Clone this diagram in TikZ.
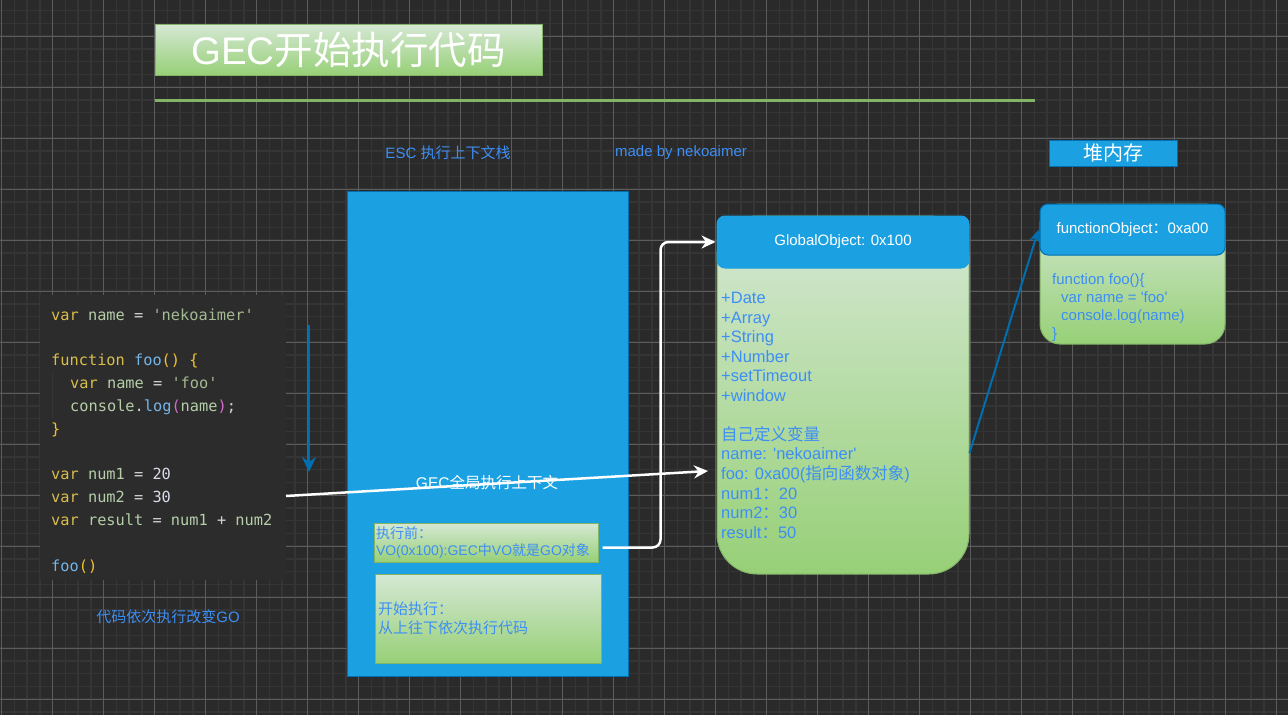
\documentclass[tikz,border=0pt]{standalone}
\usepackage{fontspec}
\setmainfont{Liberation Sans}
\newfontfamily\cjk{Noto Sans CJK SC}
\newfontfamily\codefont{DejaVu Sans Mono}
\usetikzlibrary{arrows.meta}
\newcommand{\zh}[1]{{\cjk #1}}
\newcommand{\myq}{\textquotesingle}
\definecolor{bgc}{HTML}{2A2A2A}
\definecolor{gminor}{HTML}{353535}
\definecolor{gmajor}{HTML}{5C5C5C}
\definecolor{skyb}{HTML}{1BA1E2}
\definecolor{skybd}{HTML}{006EAF}
\definecolor{gtop}{HTML}{D5E8D4}
\definecolor{gbot}{HTML}{97D077}
\definecolor{gbd}{HTML}{82B366}
\definecolor{txtb}{HTML}{3D8EF5}
\definecolor{codebg}{HTML}{2C2C2C}
\definecolor{ckw}{HTML}{D9BE4C}
\definecolor{cid}{HTML}{B5CEA8}
\definecolor{cstr}{HTML}{A3BA93}
\definecolor{cfn}{HTML}{74B5E8}
\definecolor{cbr}{HTML}{F2C230}
\definecolor{cpar}{HTML}{D66BD0}
\definecolor{cnum}{HTML}{D8DCEB}
\definecolor{cop}{HTML}{D4D4D4}
\newcommand{\cK}[1]{\textcolor{ckw}{#1}}
\newcommand{\cI}[1]{\textcolor{cid}{#1}}
\newcommand{\cS}[1]{\textcolor{cstr}{#1}}
\newcommand{\cF}[1]{\textcolor{cfn}{#1}}
\newcommand{\cB}[1]{\textcolor{cbr}{#1}}
\newcommand{\cP}[1]{\textcolor{cpar}{#1}}
\newcommand{\cN}[1]{\textcolor{cnum}{#1}}
\newcommand{\cO}[1]{\textcolor{cop}{#1}}
\tikzset{
  greenbox/.style={draw=gbd, line width=1pt, top color=gtop, bottom color=gbot},
  bluebox/.style={draw=skybd, line width=1pt, fill=skyb},
  bluetxt/.style={text=txtb, font=\fontsize{15}{18}\selectfont, inner sep=0pt},
  codeline/.style={anchor=base west, inner sep=0pt, font=\codefont\fontsize{15.3}{18}\selectfont},
  goline/.style={anchor=base west, inner sep=0pt, text=txtb, font=\fontsize{16.5}{19.5}\selectfont},
  foline/.style={anchor=base west, inner sep=0pt, text=txtb, font=\fontsize{15}{18}\selectfont},
  wline/.style={draw=white, line width=2.5pt, -{Stealth[length=14pt,width=13pt]}},
  bline/.style={draw=skybd, line width=2pt, -{Stealth[length=13pt,width=11pt]}}
}
\begin{document}
\begin{tikzpicture}[x=1pt,y=-1pt]
\useasboundingbox (0,0) rectangle (1288,715);
\fill[bgc] (0,0) rectangle (1288,715);
% grid
\foreach \i in {0,...,101} {\draw[gminor, line width=1.5pt] ({1.7+12.75*\i},0) -- ({1.7+12.75*\i},715);}
\foreach \j in {0,...,56} {\draw[gminor, line width=1.5pt] (0,{10.5+12.75*\j}) -- (1288,{10.5+12.75*\j});}
\foreach \i in {0,...,25} {\draw[gmajor, line width=1pt] ({1.7+51*\i},0) -- ({1.7+51*\i},715);}
\foreach \j in {0,...,13} {\draw[gmajor, line width=1pt] (0,{36+51*\j}) -- (1288,{36+51*\j});}

% title
\node[greenbox, minimum width=387pt, minimum height=51pt, text=white,
      font=\fontsize{38.5}{40}\selectfont] (title) at (348.5,49.5) {GEC\zh{开始执行代码}};
\coordinate (tl1) at (155,100);
\coordinate (tl2) at (1035,100);
\draw[gbd, line width=3pt] (tl1) -- (tl2);

\node[bluetxt] (esc) at (448,153) {ESC \zh{执行上下文栈}};
\node[bluetxt] (made) at (681,153) {made by nekoaimer};
\node[bluebox, minimum width=128pt, minimum height=26pt, text=white, inner sep=0pt,
      font=\fontsize{20}{22}\selectfont\cjk] (heap) at (1113,153) {堆内存};

% code box
\node[fill=codebg, minimum width=246pt, minimum height=285pt, inner sep=0pt] (code) at (163,437.5) {};
\coordinate (g1) at (52,372);
\coordinate (g2) at (52,418);
\draw[gminor, line width=1pt] (g1) -- (g2);
\node[codeline] (c1) at (51,320) {\cK{var} \cI{name} \cO{=} \cS{\myq nekoaimer\myq}};
\node[codeline] (c2) at (51,365) {\cK{function} \cF{foo}\cB{() \{}};
\node[codeline] (c3) at (70,388) {\cK{var} \cI{name} \cO{=} \cS{\myq foo\myq}};
\node[codeline] (c4) at (70,411) {\cI{console}\cO{.}\cF{log}\cP{(}\cI{name}\cP{)}\cO{;}};
\node[codeline] (c5) at (51,434) {\cB{\}}};
\node[codeline] (c6) at (51,479) {\cK{var} \cI{num1} \cO{=} \cN{20}};
\node[codeline] (c7) at (51,502) {\cK{var} \cI{num2} \cO{=} \cN{30}};
\node[codeline] (c8) at (51,525) {\cK{var} \cI{result} \cO{=} \cI{num1} \cO{+} \cI{num2}};
\node[codeline] (c9) at (51,571) {\cF{foo}\cB{()}};
\node[bluetxt] (codenote) at (168,617) {\zh{代码依次执行改变}GO};

% down arrow
\coordinate (d1) at (309,325);
\coordinate (d2) at (309,472);
\draw[bline, -{Stealth[length=15pt,width=14pt]}] (d1) -- (d2);

% stack
\node[bluebox, minimum width=281pt, minimum height=485pt] (stack) at (487.5,433.5) {};
\node[text=white, inner sep=0pt, font=\fontsize{15.5}{18}\selectfont] (stacklabel) at (487,483) {GEC\zh{全局执行上下文}};
\node[greenbox, minimum width=224pt, minimum height=39pt, inner xsep=2pt, inner ysep=0pt,
      text width=220pt, align=left, text=txtb, font=\fontsize{14}{17}\selectfont] (before) at (486,542.5)
      {\zh{执行前：}\\VO(0x100):GEC\zh{中}VO\zh{就是}GO\zh{对象}};
\node[greenbox, minimum width=226pt, minimum height=89pt, inner xsep=3pt, inner ysep=0pt,
      text width=220pt, align=left, text=txtb, font=\fontsize{15}{19}\selectfont] (start) at (488,618.5)
      {\zh{开始执行：}\\\zh{从上往下依次执行代码}};

% global object
\node[greenbox, minimum width=252pt, minimum height=358pt, rounded corners=40pt] (gobody) at (843,395) {};
\node[bluebox, draw=skyb, minimum width=252pt, minimum height=52pt, rounded corners=8pt, text=white,
      font=\fontsize{15}{18}\selectfont] (gohead) at (843,242) {GlobalObject: 0x100};
\foreach \n/\y/\t in {1/303/+Date, 2/323/+Array, 3/342/+String, 4/362/+Number, 5/381/+setTimeout,
   6/401/+window, 7/440/{\zh{自己定义变量}}, 8/459/{name: \myq nekoaimer\myq},
   9/479/{foo: 0xa00(\zh{指向函数对象})}, 10/499/{num1\zh{：}20}, 11/518/{num2\zh{：}30},
   12/538/{result\zh{：}50}}
   {\node[goline] (go\n) at (721,\y) {\t};}

% function object
\node[greenbox, minimum width=185pt, minimum height=140pt, rounded corners=20pt] (fobody) at (1132.5,274) {};
\node[bluebox, minimum width=185pt, minimum height=51pt, rounded corners=8pt, text=white,
      font=\fontsize{15}{18}\selectfont] (fohead) at (1132.5,229.5) {functionObject\zh{：}0xa00};
\node[foline] (f1) at (1052,284) {function foo()\{};
\node[foline] (f2) at (1061,302) {var name = \myq foo\myq};
\node[foline] (f3) at (1061,320) {console.log(name)};
\node[foline] (f4) at (1052,338) {\}};

% connectors
\coordinate (a1s) at (286,496);
\coordinate (a1e) at (708,471);
\draw[wline] (a1s) -- (a1e);
\draw[wline, rounded corners=8pt] ([shift={(4pt,-5pt)}]before.east) -- ++(58,0) |- ([xshift=-1pt]gohead.west);
\draw[bline] ([yshift=-58pt]gobody.east) -- ([xshift=-1pt]fohead.west);
\end{tikzpicture}
\end{document}
